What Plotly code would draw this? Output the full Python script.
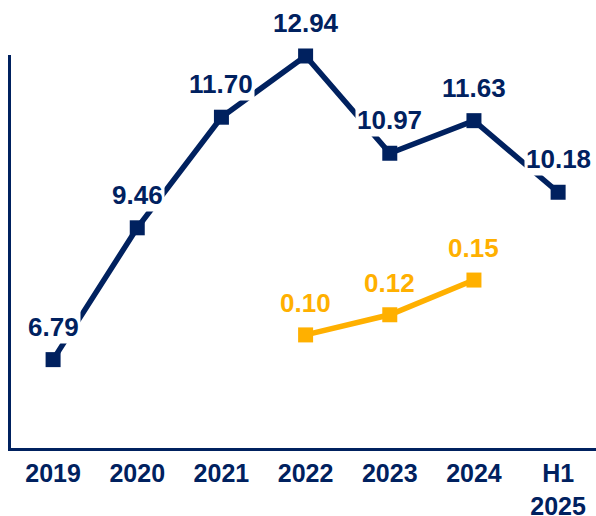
import plotly.graph_objects as go

categories = ["2019", "2020", "2021", "2022", "2023", "2024", "H1<br>2025"]
main_values = [6.79, 9.46, 11.70, 12.94, 10.97, 11.63, 10.18]
minor_categories = ["2022", "2023", "2024"]
minor_values = [0.101, 0.119, 0.150]

NAVY = "#00215F"
ORANGE = "#FFB000"
FONT = "Liberation Sans, Arial, sans-serif"

xi = list(range(len(categories)))
mx = [categories.index(c) for c in minor_categories]

fig = go.Figure()
fig.add_trace(go.Scatter(
    x=xi, y=main_values, mode="lines+markers",
    line=dict(color=NAVY, width=5.5),
    marker=dict(symbol="square", size=15, color=NAVY),
    cliponaxis=False, showlegend=False, yaxis="y"))
fig.add_trace(go.Scatter(
    x=mx, y=minor_values, mode="lines+markers",
    line=dict(color=ORANGE, width=5.5),
    marker=dict(symbol="square", size=15, color=ORANGE),
    cliponaxis=False, showlegend=False, yaxis="y2"))

annotations = []
for x, v in zip(xi, main_values):
    annotations.append(dict(
        x=x, y=v, xref="x", yref="y", text=f"<b>{v:.2f}</b>",
        showarrow=False, yshift=33, yanchor="middle",
        font=dict(family=FONT, size=26, color=NAVY),
        bgcolor="white", borderpad=1))
for x, v in zip(mx, minor_values):
    annotations.append(dict(
        x=x, y=v, xref="x", yref="y2", text=f"<b>{v:.2f}</b>",
        showarrow=False, yshift=32, yanchor="middle",
        font=dict(family=FONT, size=26, color=ORANGE),
        bgcolor="white", borderpad=1))

fig.update_layout(
    width=596, height=516,
    margin=dict(l=11, r=0, t=55, b=68, autoexpand=False),
    plot_bgcolor="white", paper_bgcolor="white",
    annotations=annotations,
    xaxis=dict(
        range=[-0.5, 6.45], tickmode="array", tickvals=xi,
        ticktext=[f"<b>{c}</b>" for c in categories],
        showgrid=False, zeroline=False, showline=True,
        linecolor=NAVY, linewidth=3, ticks="", ticklen=0,
        ticklabelstandoff=1, automargin=False,
        tickfont=dict(family=FONT, size=25, color=NAVY)),
    yaxis=dict(
        range=[5.0, 12.96], showgrid=False, zeroline=False,
        showline=True, linecolor=NAVY, linewidth=3,
        showticklabels=False, ticks="", automargin=False),
    yaxis2=dict(
        range=[0, 0.351], overlaying="y", visible=False,
        showgrid=False, zeroline=False, automargin=False),
)

fig.write_html("out.html")
